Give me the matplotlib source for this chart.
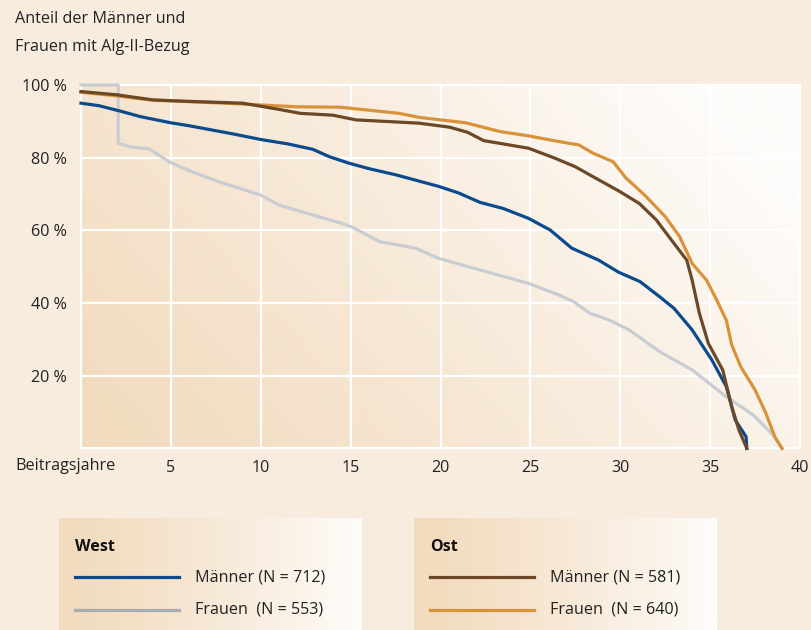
import numpy as np
import matplotlib.pyplot as plt
from matplotlib.colors import to_rgb

plt.rcParams['font.family'] = ['Open Sans', 'DejaVu Sans']
FS = 11.6

# ---- data ----------------------------------------------------------
west_m_x = [0, 1, 2.2, 3.3, 5, 6, 7.3, 8.5, 10, 11.5, 12.9, 13.8, 14.9, 16, 17.5,
            19.9, 21, 22.2, 23.5, 24.9, 26.1, 27.3, 28.8, 29.9, 31.1, 32.2, 33,
            34, 35.1, 35.9, 36.4, 37, 37.04]
west_m_y = [95, 94.3, 92.8, 91.3, 89.6, 88.8, 87.6, 86.5, 85, 83.8, 82.3, 80.3, 78.5, 77,
            75.3, 72.1, 70.3, 67.7, 66, 63.3, 60.1, 55.1, 51.8, 48.5, 45.9, 41.7, 38.5,
            32.6, 24.3, 17, 7.8, 3.2, 0]

west_f_x = [0, 2.07, 2.07, 2.7, 3.8, 4.9, 5.5, 6.5, 7.9, 10, 11, 12.9, 14.4, 15.04,
            16.6, 18.6, 19.9, 22.2, 24.9, 26.6, 27.4, 28.3, 29.4, 30.5, 32.2, 34,
            35.9, 37.4, 38.5, 39.0]
west_f_y = [100, 100, 84, 83, 82.4, 78.9, 77.5, 75.5, 73, 69.7, 67, 64.2, 62.1, 61,
            56.9, 55.1, 52.3, 49.1, 45.4, 42.2, 40.4, 37.2, 35.3, 32.6, 26.6, 21.6,
            14.2, 9.2, 3.7, 0]

ost_m_x = [0, 2, 4, 6, 9, 11, 12.2, 14, 15.3, 18.8, 20.5, 21.5, 22.4, 24.9, 26.4,
           27.5, 28.8, 29.9, 31.06, 32, 32.7, 33.7, 34.0, 34.4, 34.9, 35.7, 36.2,
           36.6, 37.04]
ost_m_y = [98.2, 97.3, 95.9, 95.5, 95, 93.3, 92.2, 91.7, 90.4, 89.5, 88.4, 87, 84.7, 82.6,
           79.8, 77.5, 73.9, 70.9, 67.4, 62.9, 58.3, 51.8, 46.3, 37.2, 28.9, 21.6,
           11.5, 5.1, 0]

ost_f_x = [0, 2, 4, 8, 10, 12, 14.4, 17.7, 18.8, 21.4, 23.3, 24.9, 26.4, 27.7, 28.5,
           29.6, 30.3, 31.4, 32.5, 33.3, 34.0, 34.8, 35.3, 35.9, 36.2, 36.7, 37.5,
           38.1, 38.6, 39.0]
ost_f_y = [98, 97, 95.8, 95, 94.5, 94, 93.9, 92.2, 91.1, 89.6, 87.2, 86, 84.6, 83.5, 81.2,
           78.9, 74.5, 69.5, 63.8, 58.3, 50.9, 46.3, 41.5, 35.3, 28.5, 22.5, 16.1,
           9.7, 3.2, 0]

x_ticks = [5, 10, 15, 20, 25, 30, 35, 40]
y_ticks = [20, 40, 60, 80, 100]

c_blue = '#0b4a8c'
c_gray = '#c9cdd2'
c_brown = '#6d4826'
c_orange = '#d8923a'
bg = '#f8ecdf'
peach = np.array(to_rgb('#f2dbbe'))
white = np.array(to_rgb('#fefcfa'))

W, H = 811, 630
fig = plt.figure(figsize=(W / 100, H / 100), dpi=100, facecolor=bg)

#-------------------------------------------------------------
# main plot
ax = fig.add_axes([81 / W, 1 - 448.4 / H, (800 - 81) / W, (448.4 - 85) / H])
ax.set_xlim(0, 40)
ax.set_ylim(0, 100)

u, v = np.meshgrid(np.linspace(0, 1, 200), np.linspace(0, 1, 200))
t = np.clip((u * 1.0 + v * 0.45) / 1.3, 0, 1) ** 1.2
grad = peach[None, None, :] * (1 - t[..., None]) + white[None, None, :] * t[..., None]
ax.imshow(grad, extent=[0, 40, 0, 100], origin='lower', aspect='auto', zorder=0)

for xv in [0] + x_ticks:
    ax.axvline(xv, color='white', lw=1.6, zorder=1, clip_on=False)
for yv in [0] + y_ticks:
    ax.axhline(yv, color='white', lw=1.6, zorder=1, clip_on=False)

ax.plot(west_f_x, west_f_y, color=c_gray, lw=2.3, zorder=3, clip_on=False)
ax.plot(west_m_x, west_m_y, color=c_blue, lw=2.3, zorder=4, clip_on=False)
ax.plot(ost_f_x, ost_f_y, color=c_orange, lw=2.3, zorder=3, clip_on=False)
ax.plot(ost_m_x, ost_m_y, color=c_brown, lw=2.3, zorder=4, clip_on=False)

for s in ax.spines.values():
    s.set_visible(False)
ax.set_xticks(x_ticks)
ax.set_yticks(y_ticks)
ax.set_yticklabels([f'{y} %' for y in y_ticks])
ax.tick_params(length=0, labelsize=FS, colors='#222222')
ax.tick_params(axis='x', pad=8)
ax.tick_params(axis='y', pad=10)

fig.text(15 / W, 1 - 466 / H, 'Beitragsjahre', fontsize=FS, color='#222222',
         ha='left', va='center')
fig.text(15 / W, 1 - 19 / H, 'Anteil der Männer und', fontsize=FS, color='#222222',
         ha='left', va='center')
fig.text(15 / W, 1 - 47 / H, 'Frauen mit Alg-II-Bezug', fontsize=FS, color='#222222',
         ha='left', va='center')

#-------------------------------------------------------------
# legend boxes
def legend_box(x0, title, entries):
    lx = fig.add_axes([x0 / W, 0, 303 / W, (630 - 518) / H])
    lx.set_xlim(0, 303)
    lx.set_ylim(112, 0)
    g = np.linspace(0, 1, 300) ** 1.3
    row = peach[None, :] * (1 - g[:, None]) + white[None, :] * g[:, None]
    lx.imshow(row[None, :, :], extent=[0, 303, 112, 0], aspect='auto', zorder=0)
    lx.axis('off')
    lx.text(16, 29, title, fontsize=FS, fontweight='bold', color='#111111',
            va='center', ha='left')
    for i, (label, col) in enumerate(entries):
        yy = 59 + 33 * i
        lx.plot([16, 120], [yy, yy], color=col, lw=2.3)
        lx.text(136, yy, label, fontsize=FS, color='#222222', va='center', ha='left')

legend_box(59, 'West', [('Männer (N = 712)', c_blue), ('Frauen  (N = 553)', '#a9acb0')])
legend_box(414, 'Ost', [('Männer (N = 581)', c_brown), ('Frauen  (N = 640)', c_orange)])

fig.savefig('out.png', dpi=100, facecolor=bg)
